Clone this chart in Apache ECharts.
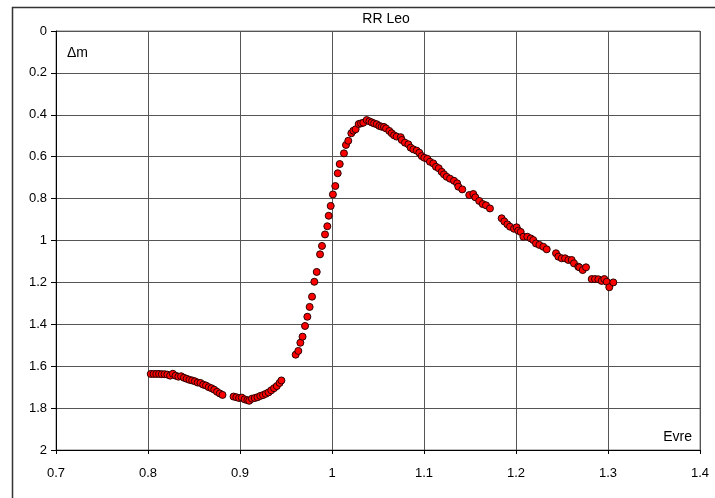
<!DOCTYPE html>
<html>
<head>
<meta charset="utf-8">
<script src="https://cdn.jsdelivr.net/npm/echarts@6/dist/echarts.min.js"></script>
<style>
    html, body { margin: 0; padding: 0; background: #fff; }
    #chart { width: 715px; height: 498px; }
</style>
</head>
<body>
<div id="chart"></div>
<script>
// RR Leo light curve: phase vs delta magnitude
var phase = [
    0.803, 0.806, 0.809, 0.812, 0.815, 0.818, 0.821, 0.824, 0.827, 0.830,
    0.833, 0.836, 0.839, 0.842, 0.845, 0.848, 0.851, 0.854, 0.857, 0.860,
    0.863, 0.866, 0.869, 0.872, 0.875, 0.878, 0.881,
    0.893, 0.896, 0.899, 0.902, 0.905, 0.908, 0.910, 0.913, 0.916, 0.919,
    0.922, 0.925, 0.928, 0.931, 0.934, 0.937, 0.940, 0.943, 0.945,
    0.9605, 0.9634, 0.9656, 0.968, 0.9707, 0.9732, 0.9757, 0.9783, 0.9808, 0.9834,
    0.987, 0.9891, 0.9924, 0.9949, 0.9964, 0.9986, 1.001, 1.0036, 1.0062, 1.0084,
    1.013, 1.0152, 1.0177, 1.021, 1.0232, 1.0257, 1.029, 1.0315, 1.034, 1.0377,
    1.0406, 1.0431, 1.0457, 1.0486, 1.0514, 1.054, 1.0565, 1.0587, 1.0623, 1.0649,
    1.0674, 1.0703, 1.0747, 1.0758, 1.0793, 1.083, 1.0855, 1.0884, 1.092, 1.0949,
    1.0975, 1.1003, 1.1036, 1.1065, 1.1101, 1.113, 1.116, 1.1192, 1.1217, 1.1246,
    1.1283, 1.1326, 1.136, 1.1373, 1.1416, 1.1492, 1.1536, 1.1558, 1.16, 1.1638,
    1.1674, 1.1717, 1.1844, 1.1873, 1.1906, 1.1935, 1.1978, 1.2007, 1.2025, 1.2051,
    1.208, 1.2123, 1.216, 1.2188, 1.2217, 1.2254, 1.2297, 1.2334, 1.2435, 1.246,
    1.2497, 1.2533, 1.2569, 1.2605, 1.263, 1.2677, 1.2688, 1.2725, 1.2761, 1.2823,
    1.2859, 1.2895, 1.2931, 1.296, 1.2986, 1.3014, 1.3058
];
var deltaMag = [
    1.637, 1.637, 1.637, 1.637, 1.638, 1.638, 1.640, 1.645, 1.636, 1.645,
    1.650, 1.648, 1.655, 1.660, 1.665, 1.668, 1.672, 1.678, 1.680, 1.688,
    1.692, 1.700, 1.705, 1.712, 1.722, 1.730, 1.737,
    1.745, 1.748, 1.752, 1.750, 1.758, 1.762, 1.765, 1.755, 1.752, 1.748,
    1.742, 1.738, 1.732, 1.725, 1.715, 1.705, 1.695, 1.680, 1.668,
    1.545, 1.527, 1.488, 1.459, 1.408, 1.364, 1.317, 1.268, 1.197, 1.150,
    1.066, 1.026, 0.971, 0.932, 0.882, 0.835, 0.780, 0.740, 0.679, 0.635,
    0.584, 0.544, 0.524, 0.488, 0.476, 0.469, 0.444, 0.441, 0.438, 0.425,
    0.431, 0.436, 0.441, 0.445, 0.453, 0.457, 0.458, 0.465, 0.477, 0.488,
    0.498, 0.504, 0.507, 0.520, 0.533, 0.541, 0.557, 0.565, 0.571, 0.581,
    0.597, 0.605, 0.610, 0.624, 0.632, 0.648, 0.655, 0.672, 0.684, 0.696,
    0.705, 0.715, 0.727, 0.743, 0.756, 0.783, 0.778, 0.794, 0.811, 0.826,
    0.832, 0.847, 0.894, 0.909, 0.923, 0.934, 0.944, 0.937, 0.953, 0.959,
    0.982, 0.982, 0.990, 0.998, 1.014, 1.021, 1.030, 1.042, 1.061, 1.077,
    1.085, 1.085, 1.093, 1.093, 1.109, 1.125, 1.128, 1.141, 1.128, 1.184,
    1.184, 1.185, 1.193, 1.184, 1.197, 1.223, 1.200
];

var chartTitle = 'RR Leo';
var yAxisName = '\u0394m';
var xAxisName = 'Evre';

var FONT = '"Liberation Sans", Arial, sans-serif';

var chart = echarts.init(document.getElementById('chart'), null, { renderer: 'canvas' });

var points = phase.map(function(p, i) {
    return [p, deltaMag[i]];
});

function tickLabel(v) {
    return String(Math.round(v * 10) / 10);
}

var option = {
    animation: false,
    backgroundColor: '#fff',
    title: {
        text: chartTitle,
        left: 381,
        top: 7,
        textAlign: 'center',
        textStyle: { fontFamily: FONT, fontSize: 14, fontWeight: 'normal', color: '#000' }
    },
    grid: {
        left: 56,
        top: 31,
        right: 15,
        bottom: 48,
        show: true,
        borderColor: '#808080',
        borderWidth: 1
    },
    xAxis: {
        type: 'value',
        min: 0.7,
        max: 1.4,
        interval: 0.1,
        axisLine: { show: true, onZero: false, lineStyle: { color: '#000', width: 1 } },
        axisTick: { show: true, length: 4, lineStyle: { color: '#000' } },
        axisLabel: { fontFamily: FONT, fontSize: 13, color: '#000', margin: 17, formatter: tickLabel },
        splitLine: { show: true, lineStyle: { color: '#555', width: 1 } }
    },
    yAxis: {
        type: 'value',
        inverse: true,
        min: 0,
        max: 2,
        interval: 0.2,
        axisLine: { show: true, onZero: false, lineStyle: { color: '#000', width: 1 } },
        axisTick: { show: true, length: 5, lineStyle: { color: '#000' } },
        axisLabel: { fontFamily: FONT, fontSize: 13, color: '#000', margin: 9, formatter: tickLabel },
        splitLine: { show: true, lineStyle: { color: '#555', width: 1 } }
    },
    graphic: [
        {
            type: 'rect',
            left: 10, top: 5,
            shape: { width: 720, height: 510 },
            style: { fill: null, stroke: '#333', lineWidth: 1.5 },
            silent: true
        },
        {
            type: 'text',
            left: 67, top: 46,
            style: { text: yAxisName, font: '14px ' + FONT, fill: '#000' },
            z: 10
        },
        {
            type: 'text',
            right: 23, top: 430,
            style: { text: xAxisName, font: '14px ' + FONT, fill: '#000' },
            z: 10
        }
    ],
    series: [{
        type: 'scatter',
        data: points,
        symbol: 'circle',
        symbolSize: 7,
        itemStyle: { color: '#ff0000', borderColor: '#2a0000', borderWidth: 1, opacity: 1 }
    }]
};

chart.setOption(option);
</script>
</body>
</html>
